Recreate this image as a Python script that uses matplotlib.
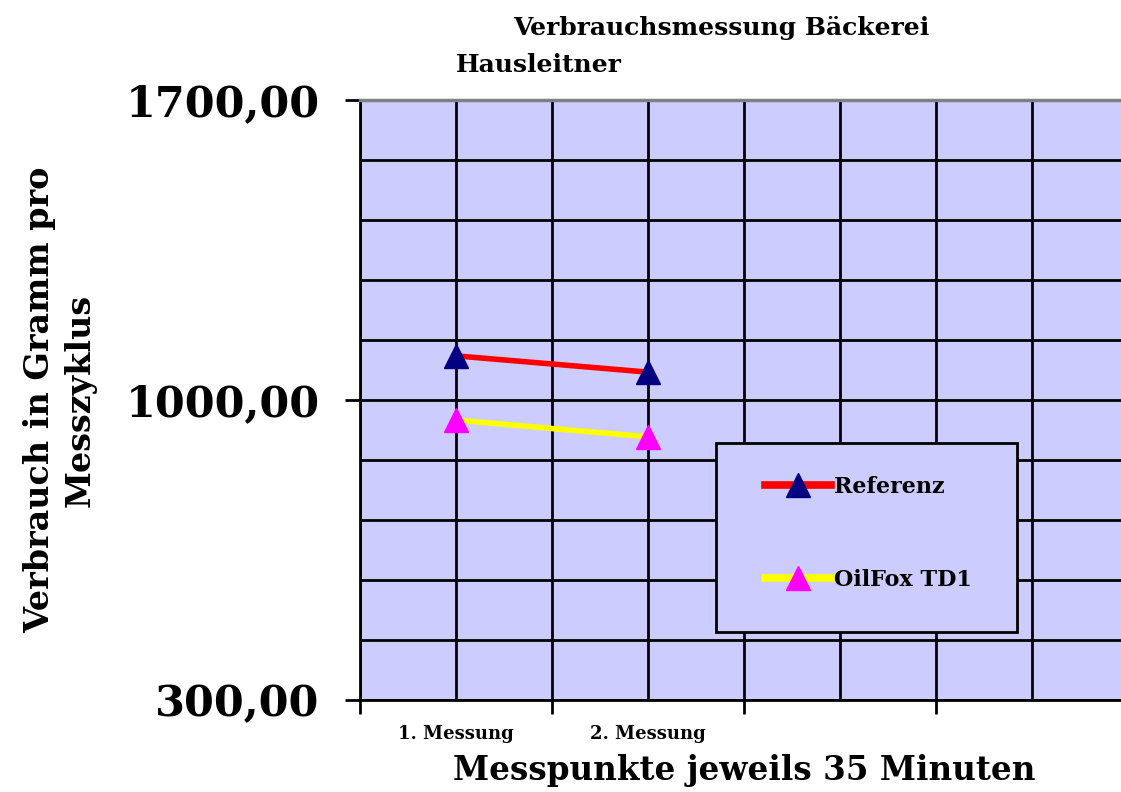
import numpy as np
import matplotlib.pyplot as plt
from matplotlib.patches import Rectangle

# Messwerte (Gramm pro Messzyklus)
messpunkte = ["1. Messung", "2. Messung"]
referenz = [1103, 1065]
oilfox = [953, 914]
y_ticks = [300, 1000, 1700]
y_labels = ["300,00", "1000,00", "1700,00"]

bg = "#CCCCFF"
serif = "DejaVu Serif"
W, H = 1121, 792

fig = plt.figure(figsize=(W / 100, H / 100), dpi=100)
ax = fig.add_axes([360 / W, 1 - 700 / H, 768 / W, 600 / H])
ax.set_facecolor(bg)


def ax_frac(px, py):
    # Pixelposition im Bild -> Achsenbruchteil
    return (px - 360) / 768, (700 - py) / 600


x = np.arange(len(messpunkte))
ax.plot(x, referenz, color="#FF0000", lw=4, marker="^", ms=17,
        mfc="#000080", mec="#000080", label="Referenz", zorder=5)
ax.plot(x, oilfox, color="#FFFF00", lw=4, marker="^", ms=17,
        mfc="#FF00FF", mec="#FF00FF", label="OilFox TD1", zorder=5)

# Achsen
ax.set_xlim(-0.5, 3.5)
ax.set_ylim(300, 1700)
ax.set_xticks([-0.5, 0.5, 1.5, 2.5])
ax.set_xticklabels([])
ax.set_xticks(np.arange(4), minor=True)
ax.set_xticklabels(messpunkte + ["", ""], minor=True, fontfamily=serif,
                   fontweight="bold", fontsize=13)
ax.tick_params(axis="x", which="major", direction="out", length=10, width=2)
ax.tick_params(axis="x", which="minor", length=0, pad=18)

ax.set_yticks(y_ticks)
ax.set_yticklabels(y_labels, fontfamily=serif, fontweight="bold", fontsize=31)
ax.set_yticks(np.arange(300, 1701, 140), minor=True)
ax.tick_params(axis="y", which="major", direction="out", length=11, width=2, pad=18)
ax.tick_params(axis="y", which="minor", length=0)

ax.grid(True, which="both", color="black", lw=2)
ax.set_axisbelow(True)

for s in ["left", "bottom"]:
    ax.spines[s].set_linewidth(2)
    ax.spines[s].set_color("black")
ax.spines["top"].set_color("#808080")
ax.spines["top"].set_linewidth(2.5)
ax.spines["right"].set_visible(False)

ax.set_xlabel("Messpunkte jeweils 35 Minuten", fontfamily=serif,
              fontweight="bold", fontsize=23.5)
ax.xaxis.set_label_coords(0.5, -0.09)
ax.set_ylabel("Verbrauch in Gramm pro\nMesszyklus", fontfamily=serif,
              fontweight="bold", fontsize=24, linespacing=1.3)
ax.yaxis.set_label_coords(ax_frac(97, 0)[0], 0.5)

# Titel
fig.text(513 / W, 1 - 28 / H, "Verbrauchsmessung Bäckerei", fontfamily=serif,
         fontweight="bold", fontsize=18, ha="left", va="center")
fig.text(456 / W, 1 - 65 / H, "Hausleitner", fontfamily=serif,
         fontweight="bold", fontsize=18, ha="left", va="center")

# Legendenrahmen
x0, y0 = ax_frac(716, 632)
x1, y1 = ax_frac(1017, 443)
ax.add_patch(Rectangle((x0, y0), x1 - x0, y1 - y0, transform=ax.transAxes,
                       facecolor=bg, edgecolor="black", lw=2, zorder=8))

leg = ax.legend(loc="upper left", bbox_to_anchor=ax_frac(765, 476),
                frameon=False, borderpad=0, labelspacing=3.2, handlelength=2.95,
                handletextpad=0.15, borderaxespad=0,
                prop={"family": serif, "weight": "bold", "size": 16})
for h in leg.legend_handles:
    h.set_linewidth(5.5)
leg.set_zorder(10)

fig.savefig("out.png", dpi=100)
